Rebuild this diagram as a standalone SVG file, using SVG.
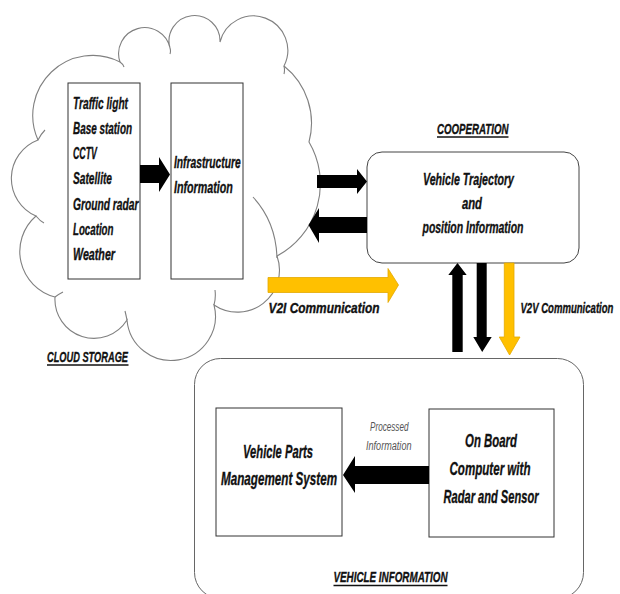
<svg xmlns="http://www.w3.org/2000/svg" width="620" height="594" viewBox="0 0 620 594">
<style>
.t{font-family:"Liberation Sans",Arial,sans-serif;font-weight:bold;font-style:italic;fill:#111;stroke:#111;stroke-width:0.35;}
.s{font-family:"Liberation Sans",Arial,sans-serif;font-style:italic;fill:#555;font-size:12.5px;}
.box{fill:#fff;stroke:#333;stroke-width:1;}
.cloud{fill:#fff;stroke:#808080;stroke-width:1.1;}
.hook{fill:none;stroke:#808080;stroke-width:1.1;}
.blk{fill:#000;}
.org{fill:#FFC000;stroke:#E3A800;stroke-width:0.8;}
.ul{stroke:#111;stroke-width:1.3;}
</style>
<rect width="620" height="594" fill="#fff"/>
<g id="cloud-storage">
<path class="cloud" d="M36,216 A41 41 0 0 1 38,140 A60 60 0 0 1 120,62 A26 26 0 1 1 170,48 A25.5 25.5 0 1 1 220,42 A34.4 34.4 0 1 1 284,66 A73 73 0 0 1 309,142 A82 82 0 0 1 277,256 A42 42 0 0 1 214,305 A44.3 44.3 0 1 1 127,320 A39 39 0 0 1 55,297 A47 47 0 0 1 36,216 Z"/>
<path class="hook" d="M38,140 q3,-6 7,-10 M36,216 q4,5 8,7 M253,197 Q276,222 277,258 M215,290 Q216,298 214,305 M127,320 q-1,-5 -2,-9 M55,297 q4,-3 8,-5 M170,48 q1,3 0,6 M120,62 q3,2 4,5 M284,66 q1,4 0,8"/>
<text class="t" x="47" y="362" font-size="15" textLength="81" lengthAdjust="spacingAndGlyphs">CLOUD STORAGE</text>
<line class="ul" x1="47" y1="365" x2="128.5" y2="365"/>
</g>
<g id="sources">
<rect class="box" x="68" y="83" width="72" height="196"/>
<g class="t" font-size="16">
<text x="73" y="108.5" textLength="55" lengthAdjust="spacingAndGlyphs">Traffic light</text>
<text x="73" y="133.8" textLength="59" lengthAdjust="spacingAndGlyphs">Base station</text>
<text x="73" y="159" textLength="24" lengthAdjust="spacingAndGlyphs">CCTV</text>
<text x="73" y="184.3" textLength="39" lengthAdjust="spacingAndGlyphs">Satellite</text>
<text x="73" y="209.5" textLength="65.5" lengthAdjust="spacingAndGlyphs">Ground radar</text>
<text x="73" y="234.8" textLength="40.5" lengthAdjust="spacingAndGlyphs">Location</text>
<text x="73" y="260" textLength="42" lengthAdjust="spacingAndGlyphs">Weather</text>
</g>
</g>
<g id="infrastructure">
<rect class="box" x="171" y="83" width="72" height="196"/>
<g class="t" font-size="16">
<text x="174" y="168" textLength="66.7" lengthAdjust="spacingAndGlyphs">Infrastructure</text>
<text x="174" y="193" textLength="58.7" lengthAdjust="spacingAndGlyphs">Information</text>
</g>
</g>
<g id="cooperation">
<text class="t" x="437" y="133.5" font-size="15" textLength="71.5" lengthAdjust="spacingAndGlyphs">COOPERATION</text>
<line class="ul" x1="437" y1="137" x2="508.5" y2="137"/>
<rect x="367" y="152" width="212" height="111" rx="15" ry="15" fill="#fff" stroke="#444" stroke-width="1"/>
<g class="t" font-size="16">
<text x="423" y="185" textLength="91" lengthAdjust="spacingAndGlyphs">Vehicle Trajectory</text>
<text x="462" y="209" textLength="20" lengthAdjust="spacingAndGlyphs">and</text>
<text x="422.5" y="233" textLength="101" lengthAdjust="spacingAndGlyphs">position Information</text>
</g>
</g>
<g id="vehicle-information">
<rect x="194.5" y="358.5" width="389" height="240" rx="26" ry="26" fill="#fff" stroke="#666" stroke-width="1"/>
<text class="t" x="333.5" y="582" font-size="15" textLength="114" lengthAdjust="spacingAndGlyphs">VEHICLE INFORMATION</text>
<line class="ul" x1="333.5" y1="585.5" x2="447.5" y2="585.5"/>
</g>
<g id="vehicle-parts">
<rect class="box" x="216" y="408" width="126" height="128"/>
<g class="t" font-size="19">
<text x="243" y="458" textLength="70" lengthAdjust="spacingAndGlyphs">Vehicle Parts</text>
<text x="221" y="485" textLength="116" lengthAdjust="spacingAndGlyphs">Management System</text>
</g>
</g>
<g id="onboard-computer">
<rect class="box" x="429" y="409" width="125" height="128"/>
<g class="t" font-size="19">
<text x="465" y="447" textLength="52" lengthAdjust="spacingAndGlyphs">On Board</text>
<text x="449.5" y="475" textLength="81" lengthAdjust="spacingAndGlyphs">Computer with</text>
<text x="443.5" y="503" textLength="95" lengthAdjust="spacingAndGlyphs">Radar and Sensor</text>
</g>
</g>
<g id="connectors">
<polygon class="blk" points="140,165 159,165 159,157 170,174.5 159,192 159,183 140,183"/>
<polygon class="blk" points="317,175 357,175 357,169 367,181.5 357,194 357,188 317,188"/>
<polygon class="blk" points="367,217 319,217 319,208 308.5,225 319,243 319,233 367,233"/>
<polygon class="org" points="268,277.5 388,277.5 388,268.5 398.5,285 388,302.5 388,292.5 268,292.5"/>
<text class="t" x="268.5" y="313" font-size="14.5" textLength="111" lengthAdjust="spacingAndGlyphs">V2I Communication</text>
<polygon class="blk" points="452.3,352 452.3,275 448.3,275 457.5,263 466.7,275 462.7,275 462.7,352"/>
<polygon class="blk" points="476.7,263 486.7,263 486.7,337 491.7,337 482.2,352 473.3,337 476.7,337"/>
<polygon class="org" points="504.3,263 514,263 514,337 520,337 509.6,355 499.3,337 504.3,337"/>
<text class="t" transform="translate(520.5,313) scale(0.66,1)" x="0" y="0" font-size="14.5">V2V Communication</text>
<polygon class="blk" points="429,466 355,466 355,456 343,475 355,493 355,484 429,484"/>
<text class="s" x="370" y="431" textLength="38.5" lengthAdjust="spacingAndGlyphs">Processed</text>
<text class="s" x="366" y="450" textLength="45.5" lengthAdjust="spacingAndGlyphs">Information</text>
</g>
</svg>
